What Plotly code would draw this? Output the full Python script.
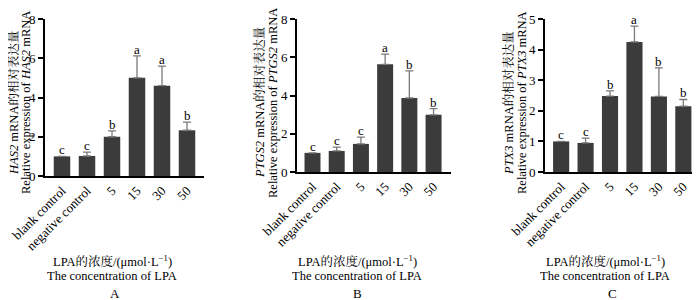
import plotly.graph_objects as go

categories = ["blank control", "negative control", "5", "15", "30", "50"]

has2_values = [1.0, 1.02, 2.0, 5.0, 4.6, 2.33]
has2_err = [0.0, 0.2, 0.3, 1.12, 1.0, 0.42]
has2_letters = ["c", "c", "b", "a", "a", "b"]

ptgs2_values = [1.0, 1.1, 1.47, 5.63, 3.87, 2.99]
ptgs2_err = [0.0, 0.2, 0.35, 0.53, 1.42, 0.32]
ptgs2_letters = ["c", "c", "c", "a", "b", "b"]

ptx3_values = [1.0, 0.95, 2.48, 4.25, 2.47, 2.15]
ptx3_err = [0.0, 0.16, 0.17, 0.52, 0.93, 0.22]
ptx3_letters = ["c", "c", "b", "a", "b", "b"]

y_ticks_8 = [0, 2, 4, 6, 8]
y_ticks_5 = [0, 1, 2, 3, 4, 5]

genes = ["HAS2", "PTGS2", "PTX3"]
panel_labels = ["A", "B", "C"]
x_title_cn = "LPA的浓度/(μmol·L<sup>−1</sup>)"
x_title_en = "The concentration of LPA"

FONT = "Liberation Serif, Noto Serif CJK SC, Noto Sans CJK SC, serif"
BAR = "#3b3b3b"
ERR = "#7a7a7a"

# page body has an 8px default margin; compensate so pixel positions match
OFF = 8
W, H = 700 - OFF, 300 - OFF


def px(x):
    return (x - OFF) / W


def py(y):
    return 1 - (y - OFF) / H


panels = [
    dict(vals=has2_values, err=has2_err, let=has2_letters, ymax=8, ticks=y_ticks_8,
         xd=[px(45), px(204)], yd=[py(176), py(19)], xr=[-0.68, 5.68],
         yt1=13, yt2=26, ttx=112, lbx=115),
    dict(vals=ptgs2_values, err=ptgs2_err, let=ptgs2_letters, ymax=8, ticks=y_ticks_8,
         xd=[px(297), px(451)], yd=[py(172), py(19)], xr=[-0.64, 5.72],
         yt1=259, yt2=273, ttx=357, lbx=357),
    dict(vals=ptx3_values, err=ptx3_err, let=ptx3_letters, ymax=5, ticks=y_ticks_5,
         xd=[px(545), px(698)], yd=[py(172), py(19)], xr=[-0.66, 5.6],
         yt1=508, yt2=522, ttx=605, lbx=612),
]

fig = go.Figure()
annotations = []
for i, p in enumerate(panels):
    n = "" if i == 0 else str(i + 1)
    fig.add_trace(go.Bar(
        x=categories, y=p["vals"], xaxis="x" + n, yaxis="y" + n,
        width=0.66, marker=dict(color=BAR, line=dict(width=0)),
        error_y=dict(type="data", array=p["err"], arrayminus=[0] * 6, symmetric=False,
                     color=ERR, thickness=1.3, width=4),
        showlegend=False,
    ))
    fig.update_layout(**{
        "xaxis" + n: dict(domain=p["xd"], range=p["xr"], anchor="y" + n,
                          type="category",
                          showline=True, linecolor="black", linewidth=2,
                          ticks="", tickangle=-45, showgrid=False,
                          tickfont=dict(family=FONT, size=13, color="black")),
        "yaxis" + n: dict(domain=p["yd"], range=[0, p["ymax"]], anchor="x" + n,
                          showline=True, linecolor="black", linewidth=2,
                          ticks="outside", ticklen=5, tickwidth=1.5, tickcolor="black",
                          tickvals=p["ticks"], showgrid=False, zeroline=False,
                          tickfont=dict(family=FONT, size=13, color="black")),
    })
    for j, (v, e, l) in enumerate(zip(p["vals"], p["err"], p["let"])):
        annotations.append(dict(x=j, y=v + e, xref="x" + n, yref="y" + n,
                                text=l, showarrow=False, yanchor="bottom", yshift=-3,
                                font=dict(family=FONT, size=13, color="black")))
    g = genes[i]
    for xx, txt in [(p["yt1"], f"<i>{g}</i> mRNA的相对表达量"),
                    (p["yt2"], f"Relative expression of <i>{g}</i> mRNA")]:
        annotations.append(dict(
            x=px(xx), y=py(103), xref="paper", yref="paper", textangle=-90,
            text=txt, showarrow=False, xanchor="center", yanchor="middle",
            font=dict(family=FONT, size=12.5, color="black")))
    for yy, txt in [(261, x_title_cn), (276, x_title_en)]:
        annotations.append(dict(
            x=px(p["ttx"]), y=py(yy), xref="paper", yref="paper",
            text=txt, showarrow=False, xanchor="center", yanchor="middle",
            font=dict(family=FONT, size=12.5, color="black")))
    annotations.append(dict(
        x=px(p["lbx"]), y=py(293), xref="paper", yref="paper",
        text=panel_labels[i], showarrow=False, xanchor="center", yanchor="middle",
        font=dict(family=FONT, size=13, color="black")))

fig.update_layout(width=W, height=H,
                  margin=dict(l=0, r=0, t=0, b=0, autoexpand=False),
                  plot_bgcolor="white", paper_bgcolor="white",
                  annotations=annotations, bargap=0.35)
fig.write_html("out.html")
